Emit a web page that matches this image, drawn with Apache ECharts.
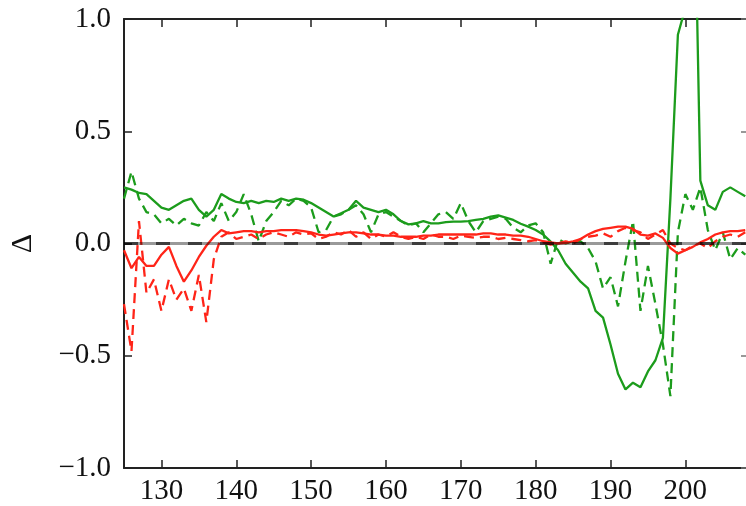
<!DOCTYPE html>
<html><head><meta charset="utf-8">
<script src="https://cdn.jsdelivr.net/npm/echarts@6/dist/echarts.min.js"></script>
<style>html,body{margin:0;padding:0;background:#fff}#c{width:746px;height:506px}</style>
</head><body><div id="c"></div>
<script>
const residues = [125,126,127,128,129,130,131,132,133,134,135,136,137,138,139,140,141,142,143,144,145,146,147,148,149,150,151,152,153,154,155,156,157,158,159,160,161,162,163,164,165,166,167,168,169,170,171,172,173,174,175,176,177,178,179,180,181,182,183,184,185,186,187,188,189,190,191,192,193,194,195,196,197,198,199,200,201,202,203,204,205,206,207,208];

const greenSolid = [0.25,0.24,0.225,0.22,0.19,0.16,0.15,0.17,0.19,0.2,0.15,0.12,0.15,0.22,0.2,0.185,0.18,0.19,0.18,0.19,0.185,0.2,0.19,0.2,0.195,0.18,0.16,0.14,0.12,0.135,0.15,0.19,0.16,0.15,0.14,0.15,0.13,0.1,0.085,0.09,0.1,0.09,0.09,0.095,0.097,0.097,0.1,0.105,0.11,0.12,0.125,0.115,0.105,0.088,0.075,0.06,0.04,0.008,-0.03,-0.09,-0.13,-0.17,-0.2,-0.3,-0.33,-0.45,-0.58,-0.65,-0.62,-0.64,-0.57,-0.52,-0.42,0.2,0.93,1.05,2.0,0.28,0.17,0.15,0.23,0.25,0.23,0.21];

const greenDashed = [0.2,0.32,0.2,0.14,0.13,0.09,0.11,0.08,0.11,0.09,0.08,0.14,0.1,0.18,0.1,0.14,0.22,0.13,0.01,0.1,0.14,0.19,0.17,0.2,0.19,0.16,0.05,0.06,0.12,0.13,0.15,0.17,0.13,0.05,0.13,0.14,0.12,0.1,0.08,0.09,0.05,0.09,0.13,0.14,0.11,0.18,0.1,0.05,0.1,0.11,0.12,0.11,0.07,0.05,0.08,0.09,0.05,-0.09,0.02,0.0,0.01,0.01,-0.02,-0.08,-0.2,-0.15,-0.28,-0.08,0.1,-0.3,-0.1,-0.27,-0.45,-0.68,0.05,0.22,0.15,0.25,0.06,-0.03,0.05,-0.07,-0.02,-0.05];

const redSolid = [-0.03,-0.11,-0.06,-0.1,-0.1,-0.05,-0.015,-0.1,-0.17,-0.12,-0.06,-0.01,0.03,0.06,0.045,0.05,0.055,0.055,0.05,0.055,0.055,0.06,0.06,0.06,0.055,0.05,0.04,0.035,0.04,0.045,0.05,0.05,0.045,0.04,0.04,0.035,0.035,0.03,0.03,0.03,0.035,0.035,0.04,0.04,0.04,0.04,0.04,0.04,0.045,0.045,0.04,0.04,0.035,0.035,0.03,0.02,0.01,0.005,0.0,0.003,0.01,0.02,0.04,0.055,0.065,0.07,0.075,0.075,0.065,0.04,0.035,0.045,0.025,-0.02,-0.045,-0.03,-0.015,0.005,0.02,0.04,0.05,0.055,0.055,0.06];

const redDashed = [-0.27,-0.48,0.1,-0.22,-0.16,-0.3,-0.16,-0.25,-0.2,-0.3,-0.14,-0.35,-0.07,0.03,0.05,0.02,0.03,0.04,0.02,0.04,0.05,0.04,0.03,0.05,0.04,0.045,0.02,0.03,0.05,0.04,0.06,0.03,0.05,0.02,0.04,0.03,0.05,0.03,0.02,0.03,0.02,0.04,0.03,0.03,0.02,0.035,0.03,0.025,0.03,0.03,0.02,0.025,0.02,0.015,0.01,0.015,0.005,-0.005,0.0,0.01,0.0,0.02,0.03,0.035,0.045,0.03,0.055,0.07,0.06,0.05,0.02,0.04,0.06,0.0,-0.02,-0.03,-0.01,0.0,-0.02,0.01,0.03,0.04,0.03,0.05];

const xTicks = [130,140,150,160,170,180,190,200];
const xRange = [125, 208.1];
const yRange = [-1, 1];
const zeroLevel = 0;

function pairs(ys){ return residues.map((x,i)=>[x, ys[i]]); }
const FONT = '"Liberation Serif","DejaVu Serif",serif';
const fmtY = v => (v < 0 ? '\u2212' : '') + Math.abs(v).toFixed(1);
const axisCol = '#222';

const chart = echarts.init(document.getElementById('c'), null, {renderer:'canvas'});
const lineBase = {type:'line', symbol:'none', showSymbol:false, clip:true, silent:true};
const option = {
  animation:false,
  backgroundColor:'#fff',
  grid:{left:121, right:0, top:19, bottom:38, containLabel:false},
  xAxis:[
    {type:'value', min:xRange[0], max:xRange[1], position:'bottom',
     axisLine:{show:true, onZero:false, lineStyle:{color:axisCol, width:2}},
     axisTick:{show:true, inside:true, length:8, customValues:xTicks, lineStyle:{color:axisCol, width:1.5}},
     axisLabel:{show:true, customValues:xTicks, margin:9, fontFamily:FONT, fontSize:29, color:'#111'},
     splitLine:{show:false}},
    {type:'value', min:xRange[0], max:xRange[1], position:'top',
     axisLine:{show:true, onZero:false, lineStyle:{color:axisCol, width:2}},
     axisTick:{show:true, inside:true, length:8, customValues:xTicks, lineStyle:{color:axisCol, width:1.5}},
     axisLabel:{show:false}, splitLine:{show:false}}
  ],
  yAxis:[
    {type:'value', min:yRange[0], max:yRange[1], interval:0.5, position:'left',
     name:'\u0394', nameLocation:'middle', nameGap:86,
     nameTextStyle:{fontFamily:FONT, fontSize:30, color:'#111'},
     axisLine:{show:true, onZero:false, lineStyle:{color:axisCol, width:2}},
     axisTick:{show:true, inside:true, length:8, lineStyle:{color:axisCol, width:1.5}},
     axisLabel:{show:true, margin:13, fontFamily:FONT, fontSize:29, color:'#111', formatter:fmtY},
     splitLine:{show:false}},
    {type:'value', min:yRange[0], max:yRange[1], interval:0.5, position:'right',
     axisLine:{show:false, onZero:false},
     axisTick:{show:true, inside:true, length:5, lineStyle:{color:'#777', width:1.5}},
     axisLabel:{show:false}, splitLine:{show:false}}
  ],
  series:[
    Object.assign({}, lineBase, {name:'green solid', data:pairs(greenSolid), lineStyle:{color:'#1c9c1c', width:2.3}}),
    Object.assign({}, lineBase, {name:'green dashed', data:pairs(greenDashed), lineStyle:{color:'#1c9c1c', width:2.3, type:[10,6]}}),
    Object.assign({}, lineBase, {name:'red solid', data:pairs(redSolid), lineStyle:{color:'#ff2418', width:2.3}}),
    Object.assign({}, lineBase, {name:'red dashed', data:pairs(redDashed), lineStyle:{color:'#ff2418', width:2.3, type:[10,6]}}),
    Object.assign({}, lineBase, {name:'zero', data:[[xRange[0],zeroLevel],[xRange[1],zeroLevel]], lineStyle:{color:'#000', opacity:0.4, width:3}}),
    Object.assign({}, lineBase, {name:'zero dashed', data:[[xRange[0],zeroLevel],[xRange[1],zeroLevel]], lineStyle:{color:'#000', opacity:0.6, width:3, type:[14,18]}})
  ]
};
chart.setOption(option);
</script></body></html>
